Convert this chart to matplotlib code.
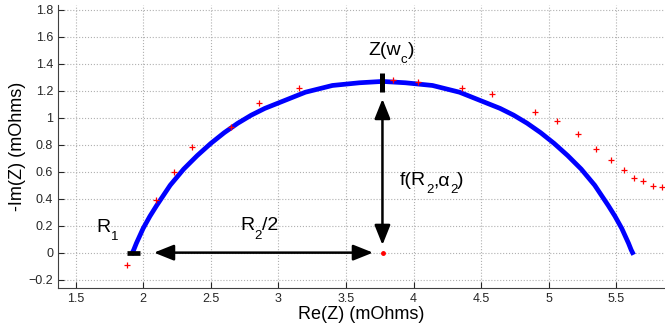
import matplotlib
matplotlib.use('Agg')
import matplotlib.pyplot as plt
from matplotlib.ticker import FuncFormatter

plt.rcParams['font.family'] = ['Liberation Sans', 'DejaVu Sans']

# fitted arc
fit_re = [1.92, 1.93, 1.95, 2.0, 2.05, 2.1, 2.2, 2.3, 2.4, 2.5, 2.6, 2.7, 2.8, 2.9,
          3.0, 3.2, 3.4, 3.6, 3.77, 3.94, 4.14, 4.34, 4.54, 4.64, 4.74, 4.84, 4.94,
          5.04, 5.14, 5.24, 5.34, 5.44, 5.49, 5.54, 5.59, 5.61, 5.62]
fit_im = [0.0, 0.02, 0.07, 0.18, 0.27, 0.35, 0.50, 0.62, 0.72, 0.81, 0.89, 0.96, 1.02, 1.07,
          1.11, 1.19, 1.24, 1.26, 1.27, 1.26, 1.24, 1.19, 1.11, 1.07, 1.02, 0.96, 0.89,
          0.81, 0.72, 0.62, 0.50, 0.35, 0.27, 0.18, 0.07, 0.02, 0.0]

# measured points
meas_re = [1.884, 2.095, 2.23, 2.36, 2.65, 2.86, 3.15, 3.846, 4.03, 4.36, 4.58, 4.90,
           5.06, 5.22, 5.35, 5.46, 5.56, 5.63, 5.70, 5.77, 5.84]
meas_im = [-0.09, 0.39, 0.60, 0.786, 0.935, 1.11, 1.22, 1.28, 1.266, 1.224, 1.18, 1.04,
           0.977, 0.878, 0.77, 0.685, 0.616, 0.556, 0.532, 0.497, 0.485]

R1 = 1.93
center_re = 3.777

fig = plt.figure(figsize=(6.65, 3.26), dpi=100)
ax = fig.add_axes([0.0872, 0.1175, 0.9128, 0.8672])
ax.set_xlim(1.37, 5.86)
ax.set_ylim(-0.26, 1.837)
renderer = fig.canvas.get_renderer()


def sub_text(x, y, parts, size=14):
    # matlab-like text: subscripts a bit bigger and lower than mathtext does
    dx = 0.0
    for s, is_sub in parts:
        fs = size * 0.68 if is_sub else size
        dy = -size * 0.42 if is_sub else 0
        t = ax.annotate(s, (x, y), xytext=(dx, dy), textcoords='offset points',
                        fontsize=fs, ha='left', va='baseline')
        w = t.get_window_extent(renderer).width
        dx += w * 72.0 / fig.dpi


ax.plot(fit_re, fit_im, color='#0000ff', lw=3.4, zorder=3)
ax.plot(meas_re, meas_im, '+', color='red', ms=4, mew=0.9, zorder=4)
ax.plot([center_re], [0], '.', color='red', ms=5, zorder=4)

# R1 marker and Z(wc) marker
ax.plot([R1 - 0.05, R1 + 0.05], [0, 0], color='black', lw=3.4, solid_capstyle='butt', zorder=5)
ax.plot([3.77, 3.77], [1.19, 1.33], color='black', lw=3.6, solid_capstyle='butt', zorder=5)

arrow = dict(arrowstyle='<|-|>,head_length=0.6,head_width=0.24', color='black',
             lw=1.8, shrinkA=0, shrinkB=0, mutation_scale=20)
ax.annotate('', xy=(2.08, 0), xytext=(3.70, 0), arrowprops=arrow, zorder=5)
ax.annotate('', xy=(3.77, 1.14), xytext=(3.77, 0.057), arrowprops=arrow, zorder=5)

sub_text(1.655, 0.155, [('R', False), ('1', True)])
sub_text(2.72, 0.165, [('R', False), ('2', True), ('/2', False)])
sub_text(3.665, 1.465, [('Z(w', False), ('c', True), (')', False)])
sub_text(3.898, 0.50, [('f(R', False), ('2', True), (',\u03b1', False), ('2', True), (')', False)])

ax.set_xticks([1.5, 2, 2.5, 3, 3.5, 4, 4.5, 5, 5.5])
ax.set_yticks([-0.2, 0, 0.2, 0.4, 0.6, 0.8, 1, 1.2, 1.4, 1.6, 1.8])
fmt = FuncFormatter(lambda v, p: ('%g' % round(v, 2)).replace('-', '\u2212'))
ax.xaxis.set_major_formatter(fmt)
ax.yaxis.set_major_formatter(fmt)
ax.tick_params(direction='in', length=4, width=0.8, labelsize=9, colors='#262626')

ax.grid(True, linestyle=':', color='#b0b0b0', lw=0.8)
ax.set_axisbelow(True)
for s in ['top', 'right']:
    ax.spines[s].set_visible(False)
for s in ['left', 'bottom']:
    ax.spines[s].set_color('#404040')
    ax.spines[s].set_linewidth(0.8)

ax.set_xlabel('Re(Z) (mOhms)', fontsize=13, labelpad=1)
ax.set_ylabel('-Im(Z) (mOhms)', fontsize=13, labelpad=1.5)

fig.savefig('out.png', dpi=100)
